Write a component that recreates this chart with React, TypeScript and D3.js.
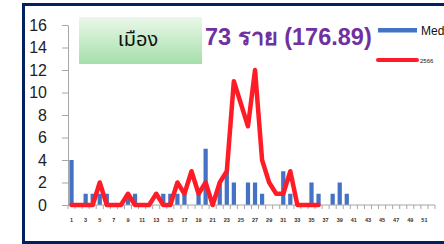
import React, { useRef, useEffect } from "react";
import { select, scaleBand, scaleLinear, axisLeft, line } from "d3";

// week numbers (categories)
const weeks = Array.from({ length: 52 }, (_, i) => i + 1);
// median of previous years, one value per week
const medianValues = [
  4, 0, 1, 1, 1, 1, 0, 0, 1, 1, 0, 0, 0, 1, 1, 1, 1, 0, 1, 5, 0, 2, 3, 2, 0, 2,
  2, 1, 0, 0, 3, 1, 0, 0, 2, 1, 0, 1, 2, 1, 0, 0, 0, 0, 0, 0, 0, 0, 0, 0, 0, 0,
];
// cases 2566, weeks 1..36
const cases2566 = [
  0, 0, 0, 0, 2, 0, 0, 0, 1, 0, 0, 0, 1, 0, 0, 2, 1, 3, 1, 2, 0, 2, 3, 11, 9, 7,
  12, 4, 2, 1, 1, 3, 0, 0, 0, 0,
];
const yTicks = [0, 2, 4, 6, 8, 10, 12, 14, 16];
const xLabels = weeks.filter((w) => w % 2 === 1);

const districtName = "เมือง";
const summaryText = "73 ราย (176.89)";
const legendMedian = "Median";
const legendYear = "2566";

const margin = { left: 68, right: 9, top: 25, bottom: 39 };
const width = 444;
const height = 244;

function Chart() {
  const yAxisRef = useRef(null);

  const xScale = scaleBand()
    .domain(weeks.map(String))
    .range([margin.left, width - margin.right])
    .paddingInner(0.4)
    .paddingOuter(0.2);

  const yScale = scaleLinear()
    .domain([0, 16])
    .range([height - margin.bottom, margin.top]);

  const step = (width - margin.right - margin.left) / weeks.length;
  const center = (w) => margin.left + step * (w - 0.5);

  useEffect(() => {
    const g = select(yAxisRef.current);
    g.attr("transform", `translate(${margin.left},0)`)
      .call(axisLeft(yScale).tickValues(yTicks).tickSize(6).tickSizeOuter(0).tickPadding(15));
    g.select(".domain").attr("stroke", "#a6a6a6");
    g.selectAll(".tick line").attr("stroke", "#a6a6a6");
    g.selectAll(".tick text")
      .attr("font-size", 16)
      .attr("font-family", "'Liberation Sans', Arial, sans-serif")
      .attr("fill", "#222");
  }, []);

  const linePath = line()
    .x((d, i) => center(i + 1))
    .y((d) => yScale(d))(cases2566);

  const y0 = yScale(0);

  return (
    <svg
      width={width}
      height={height}
      style={{ position: "fixed", left: 0, top: 0, background: "#fff" }}
    >
      <defs>
        <linearGradient id="boxGrad" x1="0" y1="0" x2="0" y2="1">
          <stop offset="0" stopColor="#eaf7ea" />
          <stop offset="1" stopColor="#a6dfaa" />
        </linearGradient>
      </defs>

      {/* frame */}
      <rect x={23.5} y={4.5} width={460} height={238} fill="none" stroke="#002060" strokeWidth={3} />

      {/* bars */}
      <g>
        {medianValues.map((v, i) =>
          v > 0 ? (
            <rect
              key={i}
              x={center(i + 1) - xScale.bandwidth() / 2}
              y={yScale(v)}
              width={xScale.bandwidth()}
              height={y0 - yScale(v)}
              fill="#4472c4"
            />
          ) : null
        )}
      </g>

      {/* x axis */}
      <g>
        <line x1={margin.left} x2={width - margin.right} y1={y0} y2={y0} stroke="#a6a6a6" />
        {Array.from({ length: weeks.length + 1 }, (_, i) => (
          <line
            key={i}
            x1={margin.left + i * step}
            x2={margin.left + i * step}
            y1={y0}
            y2={y0 + 4}
            stroke="#a6a6a6"
          />
        ))}
        {xLabels.map((w) => (
          <text
            key={w}
            x={center(w)}
            y={y0 + 17}
            textAnchor="middle"
            fontSize={5.5}
            fontWeight="bold"
            fontFamily="'Liberation Sans', Arial, sans-serif"
            fill="#333"
          >
            {w}
          </text>
        ))}
      </g>
      <g ref={yAxisRef} />

      {/* line */}
      <path
        d={linePath}
        fill="none"
        stroke="#ff1c26"
        strokeWidth={4.5}
        strokeLinejoin="round"
        strokeLinecap="round"
      />

      {/* title box */}
      <rect x={79} y={17} width={123} height={47} fill="url(#boxGrad)" />
      <text
        x={138}
        y={46}
        textAnchor="middle"
        fontSize={20}
        fontFamily="'Noto Sans Thai', Tahoma, 'Noto Sans', sans-serif"
        fill="#111"
      >
        {districtName}
      </text>
      <text
        x={205}
        y={45}
        fontSize={23.5}
        fontWeight="bold"
        fontFamily="'Liberation Sans', Arial, sans-serif"
        fill="#7030a0"
      >
        {summaryText}
      </text>

      {/* legend */}
      <rect x={378} y={28} width={39} height={4.5} fill="#4472c4" />
      <text x={421} y={35} fontSize={12} fontFamily="'Liberation Sans', Arial, sans-serif" fill="#111">
        {legendMedian}
      </text>
      <line x1={378} x2={417} y1={60} y2={60} stroke="#ff1c26" strokeWidth={4} strokeLinecap="round" />
      <text x={420} y={62.5} fontSize={6} fontFamily="'Liberation Sans', Arial, sans-serif" fill="#111">
        {legendYear}
      </text>
    </svg>
  );
}

export default function App() {
  return <Chart />;
}
